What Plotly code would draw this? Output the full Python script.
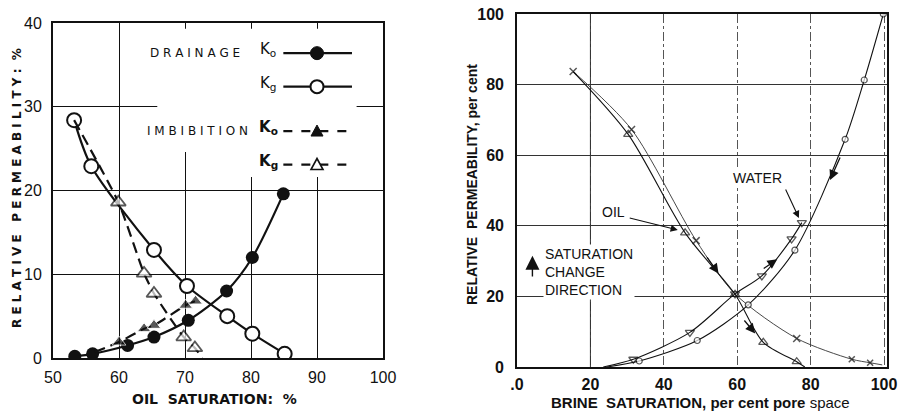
import plotly.graph_objects as go

# ---------------- Left panel data (oil saturation vs relative permeability, %) ----------------
dr_ko_x = [53.3, 56.0, 61.3, 65.3, 70.5, 76.3, 80.2, 84.9]
dr_ko_y = [0.2, 0.5, 1.5, 2.5, 4.5, 8.0, 12.0, 19.6]
dr_kg_x = [53.2, 55.8, 65.3, 70.3, 76.4, 80.2, 85.1]
dr_kg_y = [28.4, 22.9, 12.9, 8.6, 5.0, 2.9, 0.5]
im_ko_x = [56.3, 60.0, 63.8, 65.3, 70.1, 71.6]
im_ko_y = [0.7, 1.9, 3.5, 3.9, 6.3, 6.8]
im_ko_size = [0, 12, 12, 12, 12, 12]
im_kg_x = [53.2, 59.9, 63.8, 65.3, 69.8, 71.5, 72.6]
im_kg_y = [28.4, 18.6, 10.1, 7.7, 2.5, 1.2, 0.0]
im_kg_size = [0, 13, 13, 13, 13, 13, 0]

left_xticks = [50, 60, 70, 80, 90, 100]
left_yticks = [0, 10, 20, 30, 40]

# ---------------- Right panel data (brine saturation vs relative permeability, per cent) -------
oil_x_x = [15.3, 31.2, 48.8, 59.4, 76.2, 91.2, 96.2, 99.5]
oil_x_y = [83.7, 67.3, 35.8, 20.7, 8.1, 2.2, 1.2, 0.6]
oil_x_size = [7, 7, 7, 0, 7, 6, 6, 0]
oil_t_x = [15.3, 30.3, 45.8, 59.4, 67.1, 76.2, 78.4]
oil_t_y = [83.7, 65.9, 38.0, 20.6, 7.0, 1.5, 0.0]
oil_t_size = [0, 8, 8, 8, 8, 8, 0]
wat_t_x = [23.5, 31.7, 47.1, 59.4, 66.7, 74.8, 77.6]
wat_t_y = [0.0, 2.2, 9.8, 20.7, 25.8, 36.3, 40.9]
wat_t_size = [0, 8, 8, 8, 8, 8, 8]
wat_o_x = [24.5, 33.3, 49.1, 63.0, 75.7, 89.4, 94.6, 99.8]
wat_o_y = [0.0, 1.7, 7.5, 17.6, 33.1, 64.5, 81.3, 100.0]
wat_o_size = [0, 6, 6, 6, 6, 6, 6, 6]

right_ticks = [0, 20, 40, 60, 80, 100]

FONT = "Liberation Sans"
BLK = "#111111"

fig = go.Figure()

# Left traces
fig.add_trace(go.Scatter(x=dr_ko_x, y=dr_ko_y, mode="lines+markers",
                         line=dict(color=BLK, width=2.2, shape="spline", smoothing=0.8),
                         marker=dict(symbol="circle", size=13, color=BLK),
                         xaxis="x", yaxis="y", showlegend=False))
fig.add_trace(go.Scatter(x=dr_kg_x, y=dr_kg_y, mode="lines+markers",
                         line=dict(color=BLK, width=2.2, shape="spline", smoothing=0.8),
                         marker=dict(symbol="circle", size=14, color="white",
                                     line=dict(color=BLK, width=2)),
                         xaxis="x", yaxis="y", showlegend=False))
fig.add_trace(go.Scatter(x=im_ko_x, y=im_ko_y, mode="lines+markers",
                         line=dict(color=BLK, width=2.2, dash="11px,6px", shape="spline", smoothing=0.6),
                         marker=dict(symbol="triangle-up", size=im_ko_size, color=BLK),
                         xaxis="x", yaxis="y", showlegend=False))
fig.add_trace(go.Scatter(x=im_kg_x, y=im_kg_y, mode="lines+markers",
                         line=dict(color=BLK, width=2.2, dash="11px,6px", shape="spline", smoothing=0.6),
                         marker=dict(symbol="triangle-up", size=im_kg_size, color="white",
                                     line=dict(color=BLK, width=1.8)),
                         xaxis="x", yaxis="y", showlegend=False))

# Right traces
fig.add_trace(go.Scatter(x=oil_x_x, y=oil_x_y, mode="lines+markers",
                         line=dict(color="#333333", width=0.9, shape="spline", smoothing=0.8),
                         marker=dict(symbol="x-thin", size=oil_x_size, color=BLK,
                                     line=dict(color=BLK, width=1.5)),
                         xaxis="x2", yaxis="y2", showlegend=False))
fig.add_trace(go.Scatter(x=oil_t_x, y=oil_t_y, mode="lines+markers",
                         line=dict(color=BLK, width=1.1, shape="spline", smoothing=0.8),
                         marker=dict(symbol="triangle-up-open", size=oil_t_size, color=BLK,
                                     line=dict(width=1.3)),
                         xaxis="x2", yaxis="y2", showlegend=False))
fig.add_trace(go.Scatter(x=wat_t_x, y=wat_t_y, mode="lines+markers",
                         line=dict(color=BLK, width=1.1, shape="spline", smoothing=0.8),
                         marker=dict(symbol="triangle-down-open", size=wat_t_size, color=BLK,
                                     line=dict(width=1.3)),
                         xaxis="x2", yaxis="y2", showlegend=False))
fig.add_trace(go.Scatter(x=wat_o_x, y=wat_o_y, mode="lines+markers",
                         line=dict(color=BLK, width=1.1, shape="spline", smoothing=0.8),
                         marker=dict(symbol="circle", size=wat_o_size, color="white",
                                     line=dict(color=BLK, width=1.2)),
                         xaxis="x2", yaxis="y2", showlegend=False))

shapes = []
# white area behind the left legend (covers grid)
shapes.append(dict(type="rect", xref="x", yref="y", x0=65.8, x1=96, y0=24.6, y1=39.3,
                   fillcolor="white", line=dict(width=0), layer="between"))
shapes.append(dict(type="rect", xref="x", yref="y", x0=75.5, x1=96, y0=21.6, y1=25,
                   fillcolor="white", line=dict(width=0), layer="between"))
# solid x=20 gridline on right panel
shapes.append(dict(type="line", xref="x2", yref="y2", x0=20, x1=20, y0=0, y1=100,
                   line=dict(color="#333333", width=1), layer="between"))

# left legend samples
leg_rows = [36.4, 32.4, 27.1, 23.1]
leg_dash = ["solid", "solid", "dash", "dash"]
for ry, dsh in zip(leg_rows, leg_dash):
    shapes.append(dict(type="line", xref="x", yref="y", x0=84.9, x1=95.3, y0=ry, y1=ry,
                       line=dict(color=BLK, width=2.2, dash=dsh)))
# legend markers (pixel-sized around anchor)
shapes.append(dict(type="circle", xref="x", yref="y", xsizemode="pixel", ysizemode="pixel",
                   xanchor=90.0, yanchor=leg_rows[0], x0=-6.5, x1=6.5, y0=-6.5, y1=6.5,
                   fillcolor=BLK, line=dict(color=BLK, width=1)))
shapes.append(dict(type="circle", xref="x", yref="y", xsizemode="pixel", ysizemode="pixel",
                   xanchor=90.0, yanchor=leg_rows[1], x0=-6.5, x1=6.5, y0=-6.5, y1=6.5,
                   fillcolor="white", line=dict(color=BLK, width=2)))
shapes.append(dict(type="path", xref="x", yref="y", xsizemode="pixel", ysizemode="pixel",
                   xanchor=90.0, yanchor=leg_rows[2], path="M -6,-5 L 6,-5 L 0,6 Z",
                   fillcolor=BLK, line=dict(color=BLK, width=1)))
shapes.append(dict(type="path", xref="x", yref="y", xsizemode="pixel", ysizemode="pixel",
                   xanchor=90.0, yanchor=leg_rows[3], path="M -6,-5 L 6,-5 L 0,6 Z",
                   fillcolor="white", line=dict(color=BLK, width=1.6)))

ann = []
ann.append(dict(x=71.5, y=leg_rows[0], xref="x", yref="y", text="D R A I N A G E",
                showarrow=False, font=dict(family="DejaVu Sans", size=12, color=BLK)))
ann.append(dict(x=71.9, y=leg_rows[2], xref="x", yref="y", text="I M B I B I T I O N",
                showarrow=False, font=dict(family="DejaVu Sans", size=12, color=BLK)))
for ry, t in zip(leg_rows, ["K<sub>o</sub>", "K<sub>g</sub>", "<b>K<sub>o</sub></b>", "<b>K<sub>g</sub></b>"]):
    ann.append(dict(x=82.6, y=ry + 0.4, xref="x", yref="y", text=t, showarrow=False,
                    font=dict(family="DejaVu Sans", size=15, color=BLK)))

# Axis titles (left)
ann.append(dict(x=17 / 901, y=1 - 188 / 411, xref="paper", yref="paper",
                xanchor="center", yanchor="middle",
                text="<b>R E L A T I V E&nbsp;&nbsp;&nbsp;P E R M E A B I L I T Y :&nbsp;&nbsp;%</b>",
                textangle=-90, showarrow=False,
                font=dict(family="DejaVu Sans", size=12, color=BLK)))
ann.append(dict(x=214 / 901, y=1 - 399 / 411, xref="paper", yref="paper",
                xanchor="center", yanchor="middle",
                text="<b>OIL&nbsp;&nbsp;SATURATION:&nbsp;&nbsp;%</b>", showarrow=False,
                font=dict(family="DejaVu Sans", size=14, color=BLK)))
# Axis titles (right)
ann.append(dict(x=472 / 901, y=1 - 185 / 411, xref="paper", yref="paper",
                xanchor="center", yanchor="middle",
                text="<b>RELATIVE&nbsp;&nbsp;PERMEABILITY, per cent</b>",
                textangle=-90, showarrow=False,
                font=dict(family=FONT, size=14, color=BLK)))
ann.append(dict(x=700 / 901, y=1 - 402 / 411, xref="paper", yref="paper",
                xanchor="center", yanchor="middle",
                text="<b>BRINE&nbsp;&nbsp;SATURATION, per cent pore</b> space", showarrow=False,
                font=dict(family=FONT, size=15, color=BLK)))

# Right panel labels
ann.append(dict(x=7.1, y=26.9, xref="x2", yref="y2", xanchor="left", align="left",
                text="SATURATION<br>CHANGE<br>DIRECTION", showarrow=False, bgcolor="white",
                font=dict(family=FONT, size=14, color=BLK)))
ann.append(dict(x=4.2, y=31.5, xref="x2", yref="y2", ax=4.2, ay=25.2, axref="x2", ayref="y2",
                text="", showarrow=True, arrowhead=2, arrowsize=2.0, arrowwidth=1.4,
                arrowcolor=BLK, standoff=0))
ann.append(dict(x=26.4, y=43.8, xref="x2", yref="y2", text="OIL", showarrow=False,
                bgcolor="white", font=dict(family=FONT, size=14, color=BLK)))
ann.append(dict(x=43.8, y=38.8, xref="x2", yref="y2", ax=30.3, ay=42.3, axref="x2", ayref="y2",
                text="", showarrow=True, arrowhead=2, arrowsize=1.3, arrowwidth=1.1,
                arrowcolor=BLK, standoff=0))
ann.append(dict(x=65.4, y=53.5, xref="x2", yref="y2", text="WATER", showarrow=False,
                bgcolor="white", font=dict(family=FONT, size=14, color=BLK)))
ann.append(dict(x=76.8, y=42.2, xref="x2", yref="y2", ax=73.0, ay=50.7, axref="x2", ayref="y2",
                text="", showarrow=True, arrowhead=2, arrowsize=1.3, arrowwidth=1.1,
                arrowcolor=BLK, standoff=0))
# direction arrowheads along curves
for hx, hy, tx, ty in [(85.3, 53.0, 88.2, 59.8), (54.9, 26.5, 51.5, 31.5),
                       (64.9, 9.5, 61.6, 13.6), (70.9, 30.5, 66.8, 27.6)]:
    ann.append(dict(x=hx, y=hy, xref="x2", yref="y2", ax=tx, ay=ty, axref="x2", ayref="y2",
                    text="", showarrow=True, arrowhead=2, arrowsize=1.5, arrowwidth=1.3,
                    arrowcolor=BLK, standoff=0))

fig.update_layout(
    width=901, height=411, margin=dict(l=0, r=0, t=0, b=0),
    paper_bgcolor="white", plot_bgcolor="white",
    shapes=shapes, annotations=ann,
    xaxis=dict(domain=[53 / 901, 383 / 901], range=[50, 100], tickvals=left_xticks,
               showgrid=True, gridcolor=BLK, gridwidth=1.3, zeroline=False,
               showline=True, linecolor=BLK, linewidth=2, mirror=True, ticks="",
               ticklabelstandoff=4, tickfont=dict(family=FONT, size=16, color=BLK),
               anchor="y", automargin=False),
    yaxis=dict(domain=[1 - 358 / 411, 1 - 23 / 411], range=[0, 40], tickvals=left_yticks,
               showgrid=True, gridcolor=BLK, gridwidth=1.3, zeroline=False,
               showline=True, linecolor=BLK, linewidth=2, mirror=True, ticks="",
               ticklabelstandoff=6, tickfont=dict(family=FONT, size=16, color=BLK),
               anchor="x", automargin=False),
    xaxis2=dict(domain=[517 / 901, 887 / 901], range=[0, 100.8], tickvals=right_ticks,
                ticktext=[".0", "20", "40", "60", "80", "100"],
                showgrid=True, gridcolor="#555555", gridwidth=0.9, griddash="dashdot",
                zeroline=False, showline=True, linecolor=BLK, linewidth=1.6, mirror=True,
                ticks="", ticklabelstandoff=2,
                tickfont=dict(family=FONT, size=16, color=BLK, weight="bold"),
                anchor="y2", automargin=False),
    yaxis2=dict(domain=[1 - 367 / 411, 1 - 14 / 411], range=[0, 100], tickvals=right_ticks,
                showgrid=True, gridcolor="#333333", gridwidth=1, zeroline=False,
                showline=True, linecolor=BLK, linewidth=1.6, mirror=True, ticks="",
                ticklabelstandoff=8,
                tickfont=dict(family=FONT, size=16, color=BLK, weight="bold"),
                anchor="x2", automargin=False),
)

fig.write_html("out.html")
